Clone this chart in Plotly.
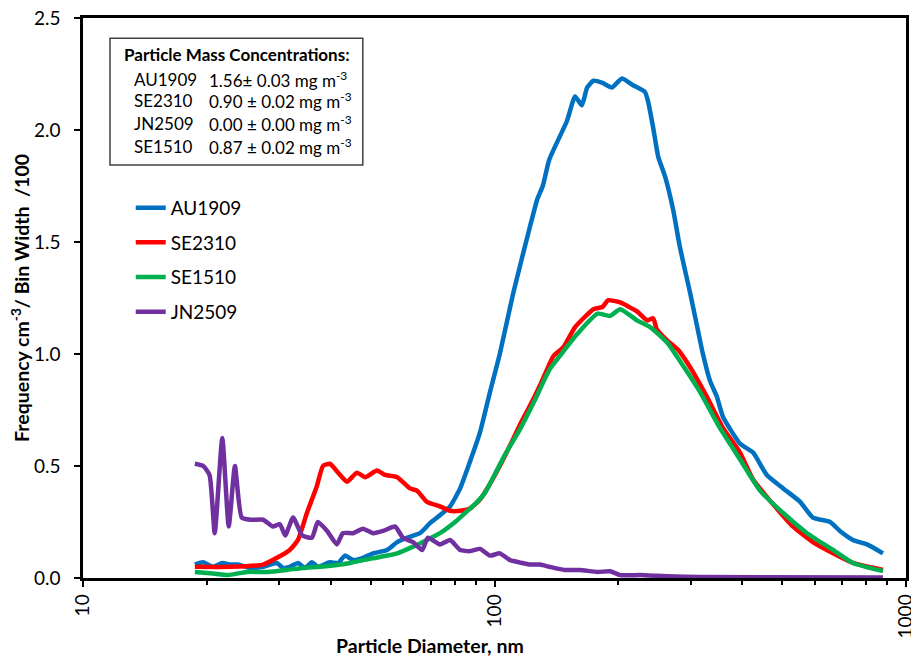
import plotly.graph_objects as go

# ---------------- data (diameter in nm, frequency /100) ----------------
au_d = [18.7, 19.6, 20.7, 21.8, 22.8, 23.8, 25.5, 27.4, 29.6, 30.6, 31.8, 33.3, 34.6, 36.0,
        37.2, 39.8, 41.7, 43.3, 45.3, 47.9, 50.7, 54.8, 58.0, 61.3, 65.9, 69.7, 73.7, 78.0,
        82.5, 87.2, 92.2, 97.5, 103, 111, 122, 127, 131, 136, 150, 157, 163, 168, 174, 183,
        193, 204, 217, 232, 236, 243, 250, 260, 272, 282, 299, 311, 321, 334, 347, 359, 395,
        425, 459, 503, 553, 594, 654, 691, 743, 804, 879]
au_y = [0.06, 0.07, 0.05, 0.067, 0.06, 0.06, 0.045, 0.05, 0.067, 0.045, 0.05, 0.067, 0.045, 0.07,
        0.05, 0.07, 0.067, 0.10, 0.08, 0.09, 0.11, 0.125, 0.16, 0.18, 0.20, 0.245, 0.28, 0.32,
        0.40, 0.52, 0.65, 0.83, 1.00, 1.27, 1.57, 1.69, 1.75, 1.87, 2.04, 2.15, 2.11, 2.19, 2.22, 2.21,
        2.19, 2.23, 2.20, 2.17, 2.13, 2.01, 1.88, 1.79, 1.64, 1.48, 1.27, 1.12, 1.00, 0.88, 0.81, 0.72, 0.60,
        0.56, 0.46, 0.40, 0.34, 0.27, 0.25, 0.21, 0.17, 0.15, 0.11]

se23_d = [18.7, 22.8, 27.4, 29.6, 31.8, 33.3, 35.0, 37.0, 38.3, 39.8, 41.7, 43.8, 46.3, 48.5,
          51.8, 54.2, 58.0, 62.3, 64.8, 68.5, 73.7, 78.0, 82.5, 87.2, 92.2, 97.5, 103, 109,
          115, 122, 129, 139, 147, 157, 174, 183, 189, 202, 222, 235, 243, 248, 263, 279, 299,
          328, 359, 395, 425, 475, 531, 594, 665, 743, 879]
se23_y = [0.05, 0.05, 0.06, 0.09, 0.125, 0.17, 0.29, 0.41, 0.50, 0.51, 0.47, 0.43, 0.47, 0.45,
          0.48, 0.46, 0.45, 0.40, 0.39, 0.34, 0.32, 0.30, 0.30, 0.31, 0.35, 0.42, 0.50, 0.59,
          0.68, 0.77, 0.86, 0.99, 1.03, 1.12, 1.20, 1.21, 1.24, 1.23, 1.19, 1.15, 1.16, 1.11, 1.06, 1.02, 0.94,
          0.81, 0.67, 0.56, 0.44, 0.33, 0.23, 0.16, 0.11, 0.067, 0.036]

se15_d = [18.7, 20.7, 22.5, 25.0, 28.0, 31.3, 34.2, 37.7, 41.4, 44.6, 47.9, 52.7, 58.0, 63.4,
          68.5, 73.7, 80.2, 84.8, 89.7, 94.8, 100, 106, 115, 125, 136, 144, 159, 178, 191, 202,
          222, 239, 263, 282, 316, 353, 395, 442, 503, 575, 665, 743, 879]
se15_y = [0.027, 0.02, 0.013, 0.027, 0.027, 0.036, 0.045, 0.05, 0.058, 0.067, 0.08, 0.094, 0.11, 0.14,
          0.17, 0.20, 0.25, 0.29, 0.33, 0.38, 0.46, 0.55, 0.66, 0.79, 0.93, 0.99, 1.09, 1.18, 1.17, 1.20,
          1.15, 1.12, 1.05, 0.97, 0.83, 0.67, 0.53, 0.39, 0.29, 0.20, 0.125, 0.067, 0.031]

jn_d = [18.7, 19.6, 20.3, 20.9, 21.8, 22.6, 23.4, 24.3, 25.5, 27.4, 28.9, 30.1, 31.0, 32.4,
        34.1, 36.0, 37.2, 39.2, 41.4, 42.8, 45.3, 47.9, 50.7, 53.6, 57.3, 59.9, 63.4, 66.7,
        68.9, 73.7, 78.0, 82.5, 87.2, 92.2, 97.5, 103, 109, 115, 122, 129, 136, 148, 161, 178,
        191, 202, 226, 248, 263, 316, 879]
jn_y = [0.51, 0.50, 0.46, 0.20, 0.625, 0.23, 0.50, 0.27, 0.26, 0.26, 0.23, 0.24, 0.19, 0.27,
        0.19, 0.18, 0.25, 0.21, 0.15, 0.20, 0.20, 0.22, 0.20, 0.21, 0.23, 0.18, 0.16, 0.125,
        0.18, 0.15, 0.17, 0.125, 0.12, 0.13, 0.10, 0.11, 0.08, 0.07, 0.06, 0.06, 0.05, 0.036, 0.036, 0.027,
        0.03, 0.013, 0.013, 0.01, 0.008, 0.004, 0.002]

series_names = ["AU1909", "SE2310", "SE1510", "JN2509"]
series_colors = ["#0070C0", "#FF0000", "#00B050", "#7030A0"]
series_x = [au_d, se23_d, se15_d, jn_d]
series_y = [au_y, se23_y, se15_y, jn_y]

x_tickvals = [10, 100, 1000]
x_ticktext = ["10", "100", "1000"]
x_minor = [20, 30, 40, 50, 60, 70, 80, 90, 200, 300, 400, 500, 600, 700, 800, 900]

box_title = "<b>Particle Mass Concentrations:</b>"
box_names = ["AU1909", "SE2310", "JN2509", "SE1510"]
box_values = ["1.56\u00b1 0.03 mg m<sup>-3</sup>", "0.90 \u00b1 0.02 mg m<sup>-3</sup>",
              "0.00 \u00b1 0.00 mg m<sup>-3</sup>", "0.87 \u00b1 0.02 mg m<sup>-3</sup>"]

FONT = "Lato, 'Open Sans', sans-serif"
X_RANGE = [0.99999, 3.00001]

fig = go.Figure()
for nm, xs, ys, col in zip(series_names, series_x, series_y, series_colors):
    fig.add_trace(go.Scatter(x=xs, y=ys, mode="lines", name=nm, legendgroup=nm,
                             line=dict(color=col, width=4.5, shape="spline", smoothing=0.5)))

# invisible helper trace for the minor-tick axis
fig.add_trace(go.Scatter(x=[100], y=[1], xaxis="x2", yaxis="y", mode="markers",
                         marker=dict(opacity=0), showlegend=False, hoverinfo="skip"))

axis_common = dict(showline=True, linewidth=2.5, linecolor="black", mirror=True,
                   showgrid=False, zeroline=False, ticks="outside", ticklen=6, automargin=False,
                   tickwidth=2, tickcolor="black", tickfont=dict(size=19, family=FONT, color="black"))

fig.update_layout(
    width=911, height=656,
    margin=dict(l=83, r=5, t=18, b=78, autoexpand=False),
    paper_bgcolor="white", plot_bgcolor="white",
    font=dict(family=FONT, color="black"),
    showlegend=True,
    legend=dict(x=0.058, y=0.695, xanchor="left", yanchor="top", font=dict(size=19, family=FONT),
                tracegroupgap=7, bgcolor="rgba(0,0,0,0)", itemwidth=30),
    xaxis=dict(type="log", range=X_RANGE, tickmode="array", tickvals=x_tickvals, ticktext=x_ticktext,
               tickangle=-90, ticklabeloverflow="allow", **axis_common),
    xaxis2=dict(type="log", range=X_RANGE, overlaying="x", anchor="y", side="bottom",
                tickmode="array", tickvals=x_minor, showticklabels=False, ticks="outside",
                ticklen=6, tickwidth=2, tickcolor="black", showgrid=False, zeroline=False,
                showline=False, automargin=False),
    yaxis=dict(range=[0, 2.5], tickmode="linear", tick0=0, dtick=0.5, tickformat=".1f",
               ticklabelstandoff=10, **axis_common),
)

# axis titles
fig.add_annotation(text="<b>Particle Diameter, nm</b>", xref="paper", yref="paper",
                   x=0.4216, y=-0.12, xanchor="center", yanchor="middle", showarrow=False,
                   font=dict(size=19.5, family=FONT))
fig.add_annotation(text="<b>Frequency cm<sup>-3</sup>/ Bin Width\u00a0\u00a0/100</b>", xref="paper", yref="paper",
                   x=-0.0766, y=0.5, xanchor="center", yanchor="middle", textangle=-90, showarrow=False,
                   font=dict(size=19.5, family=FONT))

# concentration box
fig.add_shape(type="rect", xref="paper", yref="paper", x0=0.0328, x1=0.340, y0=0.7375, y1=0.964,
              line=dict(color="#404040", width=1.5), fillcolor="white", layer="above")
fig.add_annotation(text=box_title, xref="paper", yref="paper", x=0.0474, y=0.934,
                   xanchor="left", yanchor="middle", showarrow=False, font=dict(size=17, family=FONT))
row_y = [0.891, 0.852, 0.811, 0.770]
for nm, val, yy in zip(box_names, box_values, row_y):
    fig.add_annotation(text=nm, xref="paper", yref="paper", x=0.0595, y=yy,
                       xanchor="left", yanchor="middle", showarrow=False, font=dict(size=17, family=FONT))
    fig.add_annotation(text=val, xref="paper", yref="paper", x=0.1507, y=yy,
                       xanchor="left", yanchor="middle", showarrow=False, font=dict(size=17, family=FONT))

fig.write_html("out.html")
